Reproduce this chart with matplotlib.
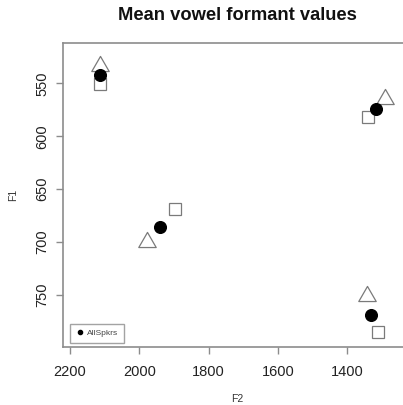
import matplotlib
matplotlib.use("Agg")
import matplotlib.pyplot as plt
from matplotlib.lines import Line2D
from matplotlib.path import Path

plt.rcParams['font.family'] = ['Liberation Sans', 'DejaVu Sans']

# Data: mean formants (F2, F1)
allspk_f2 = [2113, 1318, 1940, 1330]
allspk_f1 = [542, 574, 686, 769]
square_f2 = [2113, 1340, 1897, 1311]
square_f1 = [551, 582, 669, 785]
triangle_f2 = [2113, 1292, 1979, 1344]
triangle_f1 = [534, 565, 700, 751]

x_ticks = [2200, 2000, 1800, 1600, 1400]
y_ticks = [550, 600, 650, 700, 750]

W, H = 403, 405
fig = plt.figure(figsize=(W / 100, H / 100), dpi=100)
ax = fig.add_axes([63 / W, (H - 347) / H, 348 / W, 304 / H])

tri = Path([(0, 1), (-0.866, -0.5), (0.866, -0.5), (0, 1)],
           [Path.MOVETO, Path.LINETO, Path.LINETO, Path.CLOSEPOLY])
grey = '#7a7a7a'

ax.plot(triangle_f2, triangle_f1, linestyle='none', marker=tri, markersize=14.5,
        markerfacecolor='white', markeredgecolor=grey, markeredgewidth=0.9, zorder=3)
ax.plot(square_f2, square_f1, linestyle='none', marker='s', markersize=9,
        markerfacecolor='white', markeredgecolor=grey, markeredgewidth=0.9, zorder=3)
ax.plot(allspk_f2, allspk_f1, linestyle='none', marker='o', markersize=8.4,
        color='black', zorder=4)

ax.set_xlim(2220, 1216)
ax.set_ylim(799, 512)
ax.set_xticks(x_ticks)
ax.set_xticklabels([str(t) for t in x_ticks])
ax.set_yticks(y_ticks)
ax.set_yticklabels([str(t) for t in y_ticks], rotation=90, va='center')

box_col = '#8c8c8c'
for s in ax.spines.values():
    s.set_color(box_col)
    s.set_linewidth(1.2)
ax.tick_params(axis='both', colors=box_col, labelcolor='#222222', length=5, width=1,
               labelsize=10.5, direction='out')
ax.tick_params(axis='x', pad=8)
ax.tick_params(axis='y', pad=5)

ax.set_xlabel('F2', fontsize=7.5, color='#333333', labelpad=11)
ax.set_ylabel('F1', fontsize=7.5, color='#333333', labelpad=12)
fig.text(237 / W, 1 - 16 / H, 'Mean vowel formant values', ha='center', va='center',
         fontsize=13.2, fontweight='bold', color='#111111')

handle = Line2D([], [], linestyle='none', marker='o', markersize=3, color='black')
leg = ax.legend([handle], ['AllSpkrs'], loc='lower left', bbox_to_anchor=(0.020, 0.013),
                borderaxespad=0, fancybox=False, frameon=True, fontsize=6,
                handlelength=1.0, handletextpad=0.4, borderpad=0.7)
leg.get_frame().set_edgecolor(box_col)
leg.get_frame().set_linewidth(1.0)
for t in leg.get_texts():
    t.set_color('#444444')

fig.savefig('out.png', dpi=100)
